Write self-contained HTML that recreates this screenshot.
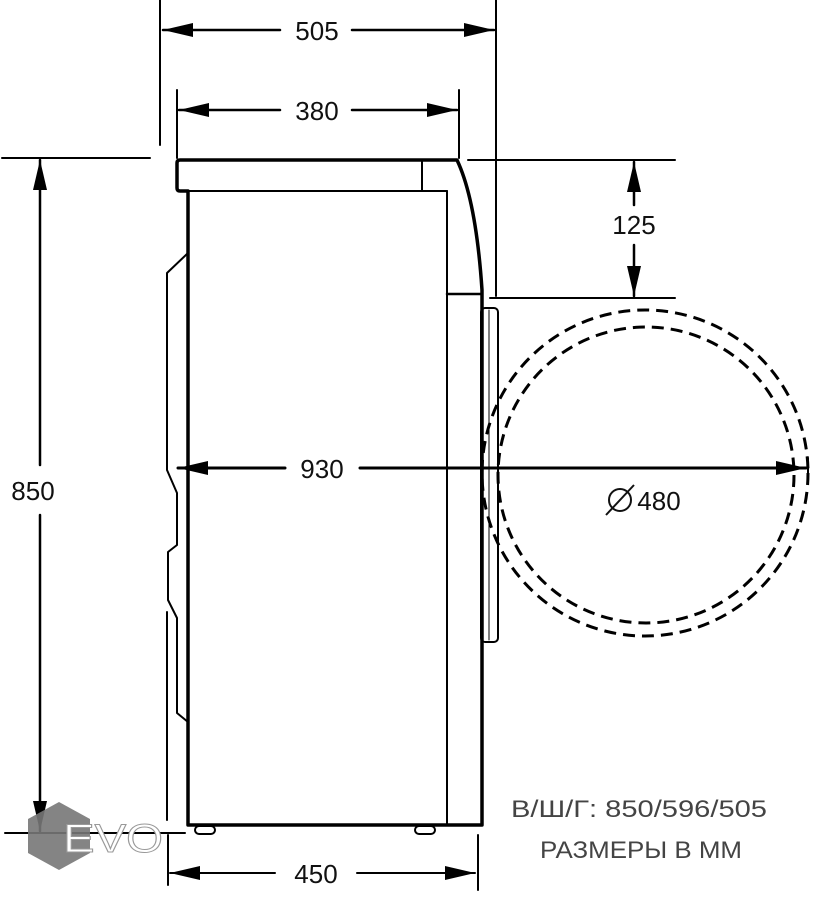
<!DOCTYPE html>
<html><head><meta charset="utf-8"><style>
html,body{margin:0;padding:0;background:#fff;}
svg{display:block;}
text{font-family:"Liberation Sans","DejaVu Sans",sans-serif;}
</style></head><body>
<svg width="814" height="900" viewBox="0 0 814 900" xmlns="http://www.w3.org/2000/svg">
<defs>
<marker id="v" viewBox="0 0 10 10" refX="10" refY="5" markerWidth="30" markerHeight="14" markerUnits="userSpaceOnUse" orient="auto-start-reverse" preserveAspectRatio="none"><path d="M0,0 L10,5 L0,10 z" fill="#000"/></marker>
</defs>
<g stroke="#000" fill="none" stroke-linecap="round" stroke-linejoin="round">
<line x1="160" y1="0" x2="160" y2="145" stroke-width="2"/>
<line x1="496" y1="0" x2="496" y2="296" stroke-width="2"/>
<line x1="177" y1="90" x2="177" y2="158" stroke-width="2"/>
<line x1="459" y1="90" x2="459" y2="158" stroke-width="2"/>
<line x1="2" y1="158" x2="150" y2="158" stroke-width="2"/>
<line x1="468" y1="160" x2="675" y2="160" stroke-width="2"/>
<line x1="490" y1="298" x2="675" y2="298" stroke-width="2"/>
<line x1="5" y1="833" x2="185" y2="833" stroke-width="2"/>
<line x1="168" y1="835" x2="168" y2="885" stroke-width="2"/>
<line x1="478" y1="835" x2="478" y2="890" stroke-width="2"/>
<path d="M188,825 L188,191 L180,191 Q177,191 177,188 L177,163 Q177,160 180,160 L457,160 Q476,200 482,290 L482,825 Z" stroke-width="3.5"/>
<line x1="188" y1="191" x2="447" y2="191" stroke-width="2"/>
<line x1="422" y1="160" x2="422" y2="191" stroke-width="2"/>
<line x1="447" y1="191" x2="447" y2="825" stroke-width="2"/>
<line x1="447" y1="294" x2="482" y2="294" stroke-width="2.5"/>
<rect x="481" y="308" width="17" height="334" rx="4" stroke-width="2"/>
<line x1="489" y1="310" x2="489" y2="640" stroke-width="1"/>
<rect x="195" y="826" width="20" height="8" rx="4" stroke-width="2"/>
<rect x="415" y="826" width="20" height="8" rx="4" stroke-width="2"/>
<polyline points="188,253 167,273 167,470 177,493 177,545 168,552 168,600 177,618 177,713 188,722" stroke-width="2"/>
<line x1="167" y1="612" x2="167" y2="820" stroke-width="2"/>
<circle cx="645" cy="473" r="163" stroke-width="3" stroke-dasharray="12,7" stroke-linecap="butt"/>
<circle cx="646" cy="475" r="148" stroke-width="3" stroke-dasharray="12,7" stroke-linecap="butt"/>
<line x1="163" y1="30" x2="280" y2="30" stroke-width="2.5" marker-start="url(#v)"/>
<line x1="352" y1="30" x2="494" y2="30" stroke-width="2.5" marker-end="url(#v)"/>
<line x1="179" y1="110" x2="280" y2="110" stroke-width="2.5" marker-start="url(#v)"/>
<line x1="352" y1="110" x2="457" y2="110" stroke-width="2.5" marker-end="url(#v)"/>
<line x1="40" y1="160" x2="40" y2="465" stroke-width="2.5" marker-start="url(#v)"/>
<line x1="40" y1="515" x2="40" y2="831" stroke-width="2.5" marker-end="url(#v)"/>
<line x1="634" y1="162" x2="634" y2="205" stroke-width="2.5" marker-start="url(#v)"/>
<line x1="634" y1="245" x2="634" y2="296" stroke-width="2.5" marker-end="url(#v)"/>
<line x1="178" y1="468" x2="285" y2="468" stroke-width="3" marker-start="url(#v)"/>
<line x1="360" y1="468" x2="806" y2="468" stroke-width="3" marker-end="url(#v)"/>
<line x1="808" y1="458" x2="808" y2="480" stroke-width="2"/>
<line x1="170" y1="873" x2="275" y2="873" stroke-width="2" marker-start="url(#v)"/>
<line x1="357" y1="873" x2="475" y2="873" stroke-width="2" marker-end="url(#v)"/>
</g>
<g font-size="26" fill="#111" text-anchor="middle">
<text x="317" y="40">505</text>
<text x="317" y="120">380</text>
<text x="33" y="500">850</text>
<text x="634" y="234">125</text>
<text x="322" y="478">930</text>
<text x="316" y="883">450</text>
<text x="659" y="510">480</text>
</g>
<g stroke="#111" stroke-width="2" fill="none">
<circle cx="620" cy="500" r="11"/>
<line x1="606" y1="515" x2="634" y2="485"/>
</g>
<g fill="#444" font-size="24" text-anchor="middle">
<text x="639" y="817" textLength="256" lengthAdjust="spacingAndGlyphs">В/Ш/Г:  850/596/505</text>
<text x="641" y="858" textLength="202" lengthAdjust="spacingAndGlyphs">РАЗМЕРЫ В ММ</text>
</g>
<polygon points="59,802 90,819 90,853 59,870 28,853 28,819" fill="#777" opacity="0.9"/>
<text x="63" y="852" font-size="40" fill="#fff" stroke="#999" stroke-width="1" textLength="100" lengthAdjust="spacingAndGlyphs">EVO</text>
</svg>
</body></html>
